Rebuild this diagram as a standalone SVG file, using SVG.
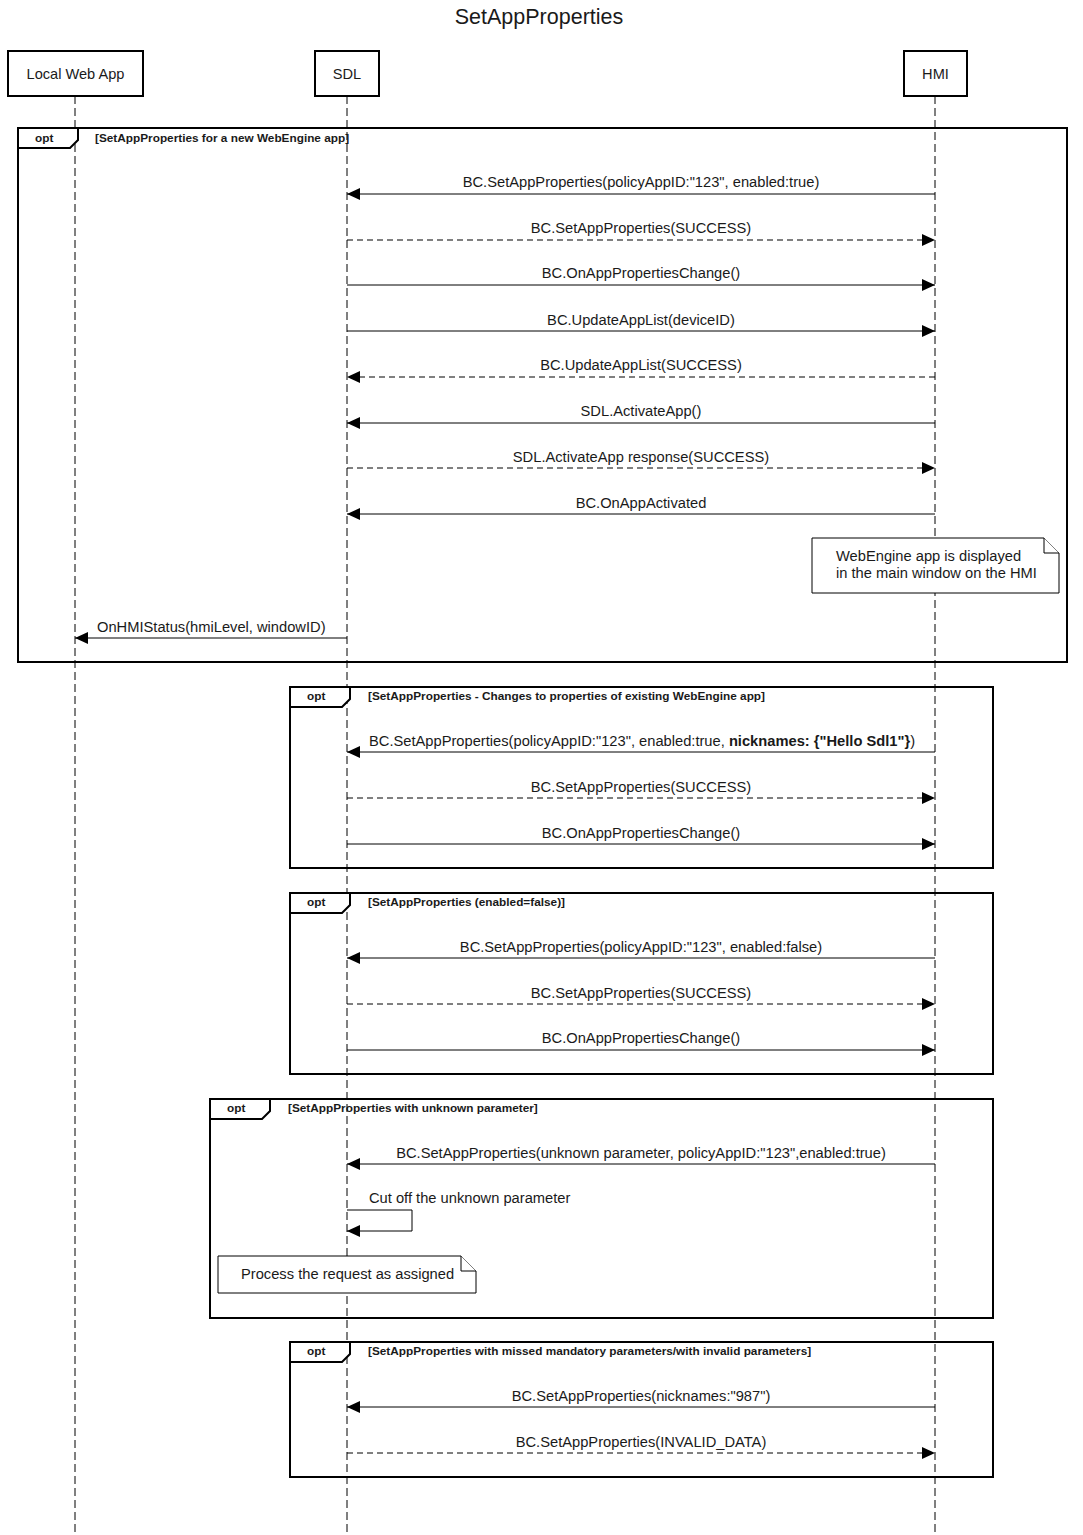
<svg xmlns="http://www.w3.org/2000/svg" width="1083" height="1535" viewBox="0 0 1083 1535">
<defs>
<marker id="ah" viewBox="0 0 13 12" refX="13" refY="6" markerWidth="13" markerHeight="12" markerUnits="userSpaceOnUse" orient="auto">
<path d="M0,0 L13,6 L0,12 z" fill="#000"/>
</marker>
<style>
text{font-family:"Liberation Sans",Arial,sans-serif;fill:#1a1a1a}
.t{font-size:21.5px;text-anchor:middle}
.h{font-size:14.6px;text-anchor:middle}
.m{font-size:14.7px;text-anchor:middle}
.l{font-size:14.7px}
.o{font-size:11.8px;font-weight:bold}
.box{fill:#fff;stroke:#000;stroke-width:2}
.life{stroke:#000;stroke-width:1;stroke-dasharray:8,4;fill:none}
.fr{fill:none;stroke:#000;stroke-width:2}
.tab{fill:#fff;stroke:#000;stroke-width:2}
.s{stroke:#000;stroke-width:1;fill:none;marker-end:url(#ah)}
.d{stroke:#000;stroke-width:1;fill:none;stroke-dasharray:6,4;marker-end:url(#ah)}
.note{fill:#fff;stroke:#000;stroke-width:1}
</style>
</defs>
<rect width="1083" height="1535" fill="#fff"/>
<text class="t" x="539" y="24">SetAppProperties</text>

<g id="lifelines">
<line class="life" x1="75" y1="96" x2="75" y2="1532"/>
<line class="life" x1="347" y1="96" x2="347" y2="1532"/>
<line class="life" x1="935" y1="96" x2="935" y2="1532"/>
</g>

<g id="node-localwebapp"><rect class="box" x="8" y="51" width="135" height="45"/><text class="h" x="75.5" y="79">Local Web App</text></g>
<g id="node-sdl"><rect class="box" x="315" y="51" width="64" height="45"/><text class="h" x="347" y="79">SDL</text></g>
<g id="node-hmi"><rect class="box" x="904" y="51" width="63" height="45"/><text class="h" x="935.5" y="79">HMI</text></g>

<g id="frame1">
<rect class="fr" x="18" y="128" width="1049" height="534"/>
<path class="tab" d="M18,128 H78 V140 L70,148 H18 Z"/>
<text class="o" x="35" y="142">opt</text>
<text class="o" x="95" y="142">[SetAppProperties for a new WebEngine app]</text>
</g>
<g id="frame2">
<rect class="fr" x="290" y="687" width="703" height="181"/>
<path class="tab" d="M290,687 H350 V699 L342,707 H290 Z"/>
<text class="o" x="307" y="700">opt</text>
<text class="o" x="368" y="700">[SetAppProperties - Changes to properties of existing WebEngine app]</text>
</g>
<g id="frame3">
<rect class="fr" x="290" y="893" width="703" height="181"/>
<path class="tab" d="M290,893 H350 V905 L342,913 H290 Z"/>
<text class="o" x="307" y="906">opt</text>
<text class="o" x="368" y="906">[SetAppProperties (enabled=false)]</text>
</g>
<g id="frame4">
<rect class="fr" x="210" y="1099" width="783" height="219"/>
<path class="tab" d="M210,1099 H270 V1111 L262,1119 H210 Z"/>
<text class="o" x="227" y="1112">opt</text>
<text class="o" x="288" y="1112">[SetAppProperties with unknown parameter]</text>
</g>
<g id="frame5">
<rect class="fr" x="290" y="1342" width="703" height="135"/>
<path class="tab" d="M290,1342 H350 V1354 L342,1362 H290 Z"/>
<text class="o" x="307" y="1355">opt</text>
<text class="o" x="368" y="1355">[SetAppProperties with missed mandatory parameters/with invalid parameters]</text>
</g>

<g id="note-webengine">
<path class="note" d="M812,538 H1044 L1059,553 V593 H812 Z"/>
<path class="note" d="M1044,538 V553 H1059"/>
<text class="l" x="836" y="561">WebEngine app is displayed</text>
<text class="l" x="836" y="578">in the main window on the HMI</text>
</g>
<g id="note-process">
<path class="note" d="M218,1256 H461 L476,1271 V1293 H218 Z"/>
<path class="note" d="M461,1256 V1271 H476"/>
<text class="l" x="241" y="1279">Process the request as assigned</text>
</g>

<g id="connectors">
<line class="s" x1="935" y1="194" x2="347" y2="194"/>
<text class="m" x="641" y="187">BC.SetAppProperties(policyAppID:"123", enabled:true)</text>
<line class="d" x1="347" y1="240" x2="935" y2="240"/>
<text class="m" x="641" y="233">BC.SetAppProperties(SUCCESS)</text>
<line class="s" x1="347" y1="285" x2="935" y2="285"/>
<text class="m" x="641" y="278">BC.OnAppPropertiesChange()</text>
<line class="s" x1="347" y1="331" x2="935" y2="331"/>
<text class="m" x="641" y="325">BC.UpdateAppList(deviceID)</text>
<line class="d" x1="935" y1="377" x2="347" y2="377"/>
<text class="m" x="641" y="370">BC.UpdateAppList(SUCCESS)</text>
<line class="s" x1="935" y1="423" x2="347" y2="423"/>
<text class="m" x="641" y="416">SDL.ActivateApp()</text>
<line class="d" x1="347" y1="468" x2="935" y2="468"/>
<text class="m" x="641" y="462">SDL.ActivateApp response(SUCCESS)</text>
<line class="s" x1="935" y1="514" x2="347" y2="514"/>
<text class="m" x="641" y="508">BC.OnAppActivated</text>
<line class="s" x1="347" y1="638" x2="75" y2="638"/>
<text class="l" x="97" y="632">OnHMIStatus(hmiLevel, windowID)</text>

<line class="s" x1="935" y1="752" x2="347" y2="752"/>
<text class="l" x="369" y="746">BC.SetAppProperties(policyAppID:"123", enabled:true, <tspan font-weight="bold">nicknames: {"Hello Sdl1"}</tspan>)</text>
<line class="d" x1="347" y1="798" x2="935" y2="798"/>
<text class="m" x="641" y="792">BC.SetAppProperties(SUCCESS)</text>
<line class="s" x1="347" y1="844" x2="935" y2="844"/>
<text class="m" x="641" y="838">BC.OnAppPropertiesChange()</text>

<line class="s" x1="935" y1="958" x2="347" y2="958"/>
<text class="m" x="641" y="952">BC.SetAppProperties(policyAppID:"123", enabled:false)</text>
<line class="d" x1="347" y1="1004" x2="935" y2="1004"/>
<text class="m" x="641" y="998">BC.SetAppProperties(SUCCESS)</text>
<line class="s" x1="347" y1="1050" x2="935" y2="1050"/>
<text class="m" x="641" y="1043">BC.OnAppPropertiesChange()</text>

<line class="s" x1="935" y1="1164" x2="347" y2="1164"/>
<text class="m" x="641" y="1158">BC.SetAppProperties(unknown parameter, policyAppID:"123",enabled:true)</text>
<path class="s" d="M347,1210 H412 V1231 H347"/>
<text class="l" x="369" y="1203">Cut off the unknown parameter</text>

<line class="s" x1="935" y1="1407" x2="347" y2="1407"/>
<text class="m" x="641" y="1401">BC.SetAppProperties(nicknames:"987")</text>
<line class="d" x1="347" y1="1453" x2="935" y2="1453"/>
<text class="m" x="641" y="1447">BC.SetAppProperties(INVALID_DATA)</text>
</g>
</svg>
